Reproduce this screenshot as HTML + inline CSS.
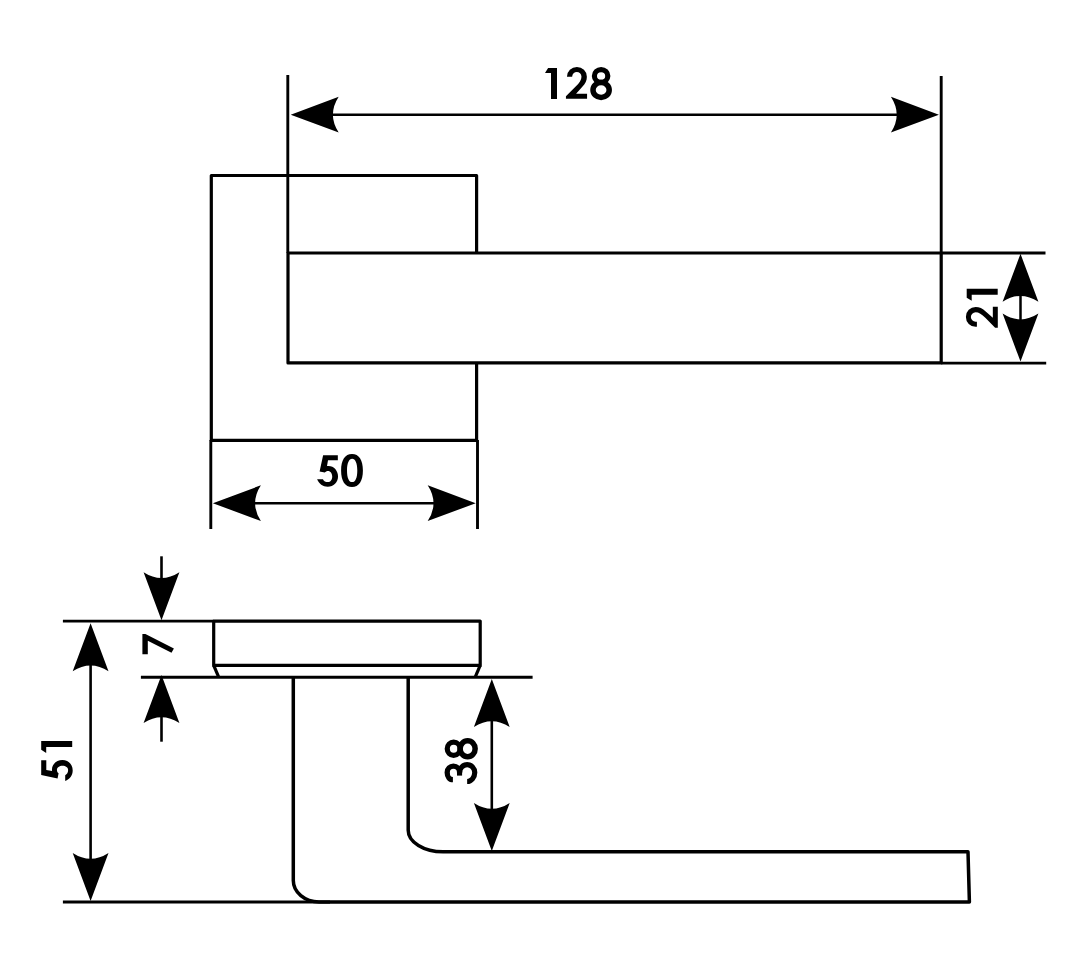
<!DOCTYPE html>
<html>
<head>
<meta charset="utf-8">
<style>
html,body{margin:0;padding:0;background:#fff;width:1080px;height:965px;overflow:hidden;font-family:"Liberation Sans",sans-serif;}
svg{display:block;}
</style>
</head>
<body>
<svg width="1080" height="965" viewBox="0 0 1080 965">
<defs>
  <path id="ar" d="M0,0 L48,-17.9 Q36.4,0 48,17.9 Z" fill="#000"/>
  <path id="g1" d="M3.1,0 H12 V31 H6 V5 H0 Z" fill="#000"/>
  <path id="g2" fill="#000" d="M1.07,8.83 A9.95,9.74 0 0 1 20.97,8.83 C20.97,12.6 19.6,15.6 16.2,19.2 L10.19,26.02 H21.17 V31 H0.04 V28.3 L9.78,18.77 C13.6,14.8 15.58,12 15.58,8.83 A4.67,4.98 0 0 0 6.25,8.83 Z"/>
  <path id="g2b" fill="#000" d="M1.07,10.1 V8.83 A9.95,9.74 0 0 1 20.97,8.83 C20.97,12.6 19.6,15.6 16.2,19.2 L10.19,26.02 H21.17 V31 H0.04 V28.3 L9.78,18.77 C13.6,14.8 15.58,12 15.58,8.83 A4.67,4.98 0 0 0 6.25,8.83 V10.1 Z"/>
  <g id="g8" fill="none" stroke="#000">
    <ellipse cx="10.75" cy="8.15" rx="6.7" ry="6.4" stroke-width="5.2"/>
    <ellipse cx="10.75" cy="22.15" rx="8.1" ry="7.5" stroke-width="5.5"/>
  </g>
  <path id="g5" fill="#000" d="M6.02,0 H20.73 V5.1 H10.9 L9.9,10.85 C10.2,10.8 10.8,10.75 11.4,10.75 C16.9,10.75 20.94,15.5 20.94,21.2 C20.94,27 16.5,31.5 10.6,31.5 C5.8,31.5 1.8,28.5 0,24 H5.81 C6.6,25.8 8.6,26.92 10.99,26.92 C13.3,26.92 15.13,24.5 15.13,21.3 C15.13,18.2 13.3,15.73 10.99,15.73 C9.6,15.73 8.4,16.4 7.67,17.39 L2.49,16.35 Z"/>
  <path id="g0" fill="#000" d="M0.00,15.20 C0.00,4.64 3.92,-1.30 10.90,-1.30 C17.88,-1.30 21.80,4.64 21.80,15.20 C21.80,25.76 17.88,31.70 10.90,31.70 C3.92,31.70 0.00,25.76 0.00,15.20 Z M5.90,15.20 C5.90,22.45 7.86,26.90 11.05,26.90 C14.24,26.90 16.20,22.45 16.20,15.20 C16.20,7.950 14.24,3.50 11.05,3.50 C7.86,3.50 5.90,7.95 5.90,15.20 Z"/>
  <path id="g7" d="M0,0 H20.2 V3 L5.7,31.5 L1.5,29.1 L13.5,5.4 H0 Z" fill="#000"/>
  <g id="g3" fill="none" stroke="#000">
    <path d="M4.1,7.4 C4.1,3.9 7.3,1.7 11.4,1.7 C14.9,1.7 17.6,4.5 17.6,7.9 C17.6,11.4 14.9,14.1 11.4,14.1" stroke-width="5.3"/>
    <path d="M11.2,14.05 C15.6,14.05 19.2,17.5 19.2,21.65 C19.2,25.85 15.6,29.25 11.2,29.25 C6.5,29.25 2.3,25.8 2.3,21.65" stroke-width="5.2"/>
    <rect x="8.2" y="11.5" width="5" height="5.1" fill="#000" stroke="none"/>
  </g>
</defs>

<g fill="none" stroke="#000" stroke-width="3.2" stroke-linejoin="round">
  <!-- TOP VIEW -->
  <rect x="211.3" y="175.5" width="265.3" height="264.9"/>
  <rect x="288" y="253" width="653.2" height="109.9" fill="#fff"/>
</g>
<g fill="none" stroke="#000" stroke-width="2.9">
  <line x1="287.8" y1="75" x2="287.8" y2="253"/>
  <line x1="941.2" y1="76" x2="941.2" y2="253"/>
  <line x1="941.2" y1="253" x2="1045.5" y2="253"/>
  <line x1="941.2" y1="363.1" x2="1046.2" y2="363.1"/>
  <line x1="210.8" y1="440" x2="210.8" y2="529"/>
  <line x1="477.5" y1="440" x2="477.5" y2="529"/>
</g>
<g fill="none" stroke="#000" stroke-width="2.5">
  <line x1="300" y1="114.7" x2="930" y2="114.7"/>
  <line x1="1020.5" y1="265" x2="1020.5" y2="350"/>
  <line x1="225" y1="503.2" x2="465" y2="503.2"/>
</g>
<use href="#ar" transform="translate(290.7,114.7)"/>
<use href="#ar" transform="translate(938.9,114.7) rotate(180)"/>
<use href="#ar" transform="translate(1020.5,253.8) rotate(90)"/>
<use href="#ar" transform="translate(1020.5,361.6) rotate(-90)"/>
<use href="#ar" transform="translate(212.9,503.2)"/>
<use href="#ar" transform="translate(475.7,503.2) rotate(180)"/>

<!-- SIDE VIEW -->
<g fill="none" stroke="#000" stroke-width="2.9">
  <line x1="62.9" y1="621.1" x2="213.7" y2="621.1"/>
  <line x1="140.9" y1="677.3" x2="532.6" y2="677.3"/>
  <line x1="62.9" y1="902" x2="330" y2="902"/>
</g>
<g fill="none" stroke="#000" stroke-width="3.2" stroke-linejoin="round">
  <path d="M213.7,665.4 V621.1 H480.2 V665.4 Z"/>
  <line x1="213.7" y1="665.4" x2="218.8" y2="677.3"/>
  <line x1="480.2" y1="665.4" x2="475.1" y2="677.3"/>
</g>
<g fill="none" stroke="#000" stroke-width="3.5" stroke-linejoin="round">
  <path d="M293.3,677.3 V880.6 A25.7,21.3 0 0 0 319,901.9 H969.4 L968,851.8 H443.1 A35,21.6 0 0 1 408.2,830.2 V677.3"/>
</g>
<g fill="none" stroke="#000" stroke-width="2.6">
  <line x1="161.5" y1="556.3" x2="161.5" y2="600"/>
  <line x1="161.5" y1="700" x2="161.5" y2="741.7"/>
  <line x1="90.6" y1="640" x2="90.6" y2="880"/>
  <line x1="491.8" y1="700" x2="491.8" y2="830"/>
</g>
<use href="#ar" transform="translate(161.5,620.2) rotate(-90)"/>
<use href="#ar" transform="translate(161.5,675) rotate(90)"/>
<use href="#ar" transform="translate(90.6,623.3) rotate(90)"/>
<use href="#ar" transform="translate(90.6,900.9) rotate(-90)"/>
<use href="#ar" transform="translate(491.8,679) rotate(90)"/>
<use href="#ar" transform="translate(491.8,850.9) rotate(-90)"/>

<!-- TEXT -->
<use href="#g1" transform="translate(545,68)"/>
<use href="#g2" transform="translate(565.9,67.85)"/>
<use href="#g8" transform="translate(590.35,67.85)"/>
<use href="#g5" transform="translate(317.1,455.2)"/>
<use href="#g0" transform="translate(341.1,455.2)"/>
<use href="#g2b" transform="matrix(0,-1,1,0,966.8,327.9)"/>
<use href="#g1" transform="matrix(0,-1,1,0,966.7,300.8)"/>
<use href="#g5" transform="matrix(0,-1,1,0,41.2,781)"/>
<use href="#g1" transform="matrix(0,-1,1,0,41.2,752.9)"/>
<use href="#g7" transform="matrix(0,-1,1,0,142.4,654.3)"/>
<use href="#g3" transform="matrix(0,-1,1,0,445.5,783.8)"/>
<use href="#g8" transform="matrix(0,-1,1,0,445.5,759.5)"/>
</svg>
</body>
</html>
